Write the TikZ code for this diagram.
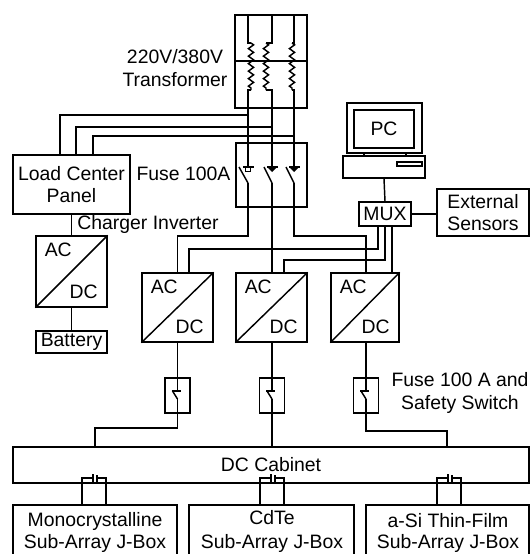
\documentclass[tikz,border=0pt]{standalone}
\usepackage{fontspec}
\setmainfont{Liberation Sans}
\usetikzlibrary{calc,decorations.pathmorphing}
\tikzset{
  wire/.style={line width=1.45pt},
  boxnode/.style={draw, line width=1.45pt, inner sep=0pt, align=center},
  lbl/.style={inner sep=0pt, align=center}
}
\begin{document}
\begin{tikzpicture}[x=1pt, y=-1pt, every node/.style={font=\fontsize{19.4}{22.5}\selectfont}]
  \clip (0,0) rectangle (530,554);
  % transformer and fuse panel
  \node[boxnode, minimum width=72pt, minimum height=93pt] (xfmr) at (271,61.5) {};
  \node[boxnode, minimum width=71pt, minimum height=64pt] (fusepanel) at (271.5,175) {};
  \draw[wire] (xfmr.west |- 0,61) -- (xfmr.east |- 0,61);
  \coordinate (phA) at (248,15);
  \coordinate (phB) at (272,15);
  \coordinate (phC) at (294,15);
  \node[lbl] (xfmrlbl) at (175,68) {220V/380V\\Transformer};
  \node[lbl] (fuselbl) at (183.5,174) {Fuse 100A};
  \foreach \ph/\cx/\bx in {phA/251/239, phB/266/264, phC/292/286}{
    \draw[wire] (\ph) |- (\cx,43);
    \draw[wire, decorate, decoration={zigzag, segment length=7.5pt, amplitude=2.6pt}] (\cx,43) -- (\cx,90);
    \draw[wire] (\cx,90) -| (\ph |- 0,167);
    \draw[wire] (\ph |- 0,167) ++(-5,0) -- ++(11,0);
    \draw[wire] (\bx,167) -- (\ph |- 0,183);
  }
  \fill (phB |- 0,167) ++(-5,0) -- ++(10,0) -- ++(-5,5) -- cycle;
  \fill (phC |- 0,167) ++(-5,0) -- ++(10,0) -- ++(-5,5) -- cycle;
  \draw[line width=0.9pt] (phA |- 0,167) ++(-2.5,0) rectangle ++(5,4);
  % load center branch
  \node[boxnode, minimum width=117pt, minimum height=59pt] (load) at (71.5,184.5) {Load Center\\Panel};
  \node[lbl] (chglbl) at (148,224) {Charger Inverter};
  \draw[wire] (load.north -| 60,0) |- (phA |- 0,115);
  \draw[wire] (load.north -| 76,0) |- (phB |- 0,127);
  \draw[wire] (load.north -| 93,0) |- (phC |- 0,136);
  % converters
  \foreach \n/\cx/\cy/\w/\h in {0/71.5/271.5/71/71, 1/177.5/307.5/71/69, 2/271.5/307.5/71/69, 3/365/307.5/68/69}{
    \node[boxnode, minimum width=\w pt, minimum height=\h pt] (conv\n) at (\cx,\cy) {};
    \draw[wire] (conv\n.south west) -- (conv\n.north east);
    \node[lbl] (ac\n) at ($(conv\n.north west)+(23,15)$) {AC};
    \node[lbl] (dc\n) at ($(conv\n.south east)+(-24,-16)$) {DC};
  }
  \node[boxnode, minimum width=71pt, minimum height=22pt] (batt) at (71.5,342) {Battery};
  \draw[wire] (load.south -| conv0.north) -- (conv0.north);
  \draw[wire] (conv0.south) -- (batt.north);
  % PC and multiplexer
  \node[boxnode, minimum width=75pt, minimum height=50pt] (mon) at (384.5,128) {};
  \node[boxnode, minimum width=60pt, minimum height=38pt] (screen) at (384,129) {PC};
  \node[boxnode, minimum width=82pt, minimum height=22pt] (base) at (384,167) {};
  \node[boxnode, minimum width=25pt, minimum height=4pt] (slot) at (409.5,164) {};
  \draw[wire] (mon.south -| 364,0) -- (base.north -| 364,0);
  \draw[wire] (mon.south -| 406,0) -- (base.north -| 406,0);
  \node[boxnode, minimum width=52pt, minimum height=24pt] (mux) at (385,214) {MUX};
  \node[boxnode, minimum width=92pt, minimum height=47pt] (ext) at (483,212.5) {External\\Sensors};
  \draw[wire] (base.south) -- (mux.north);
  \draw[wire] (mux.east) -- (ext.west |- mux.east);
  % wires to the converters
  \draw[wire] (phA |- 0,183) -- (phA |- 0,236) -| (conv1.north);
  \draw[wire] (phB |- 0,183) -- (conv2.north -| phB);
  \draw[wire] (phC |- 0,183) -- (phC |- 0,236) -| (conv3.north -| 366,0);
  \draw[wire] (conv1.north -| 189,0) |- (378,249) -- (mux.south -| 378,0);
  \draw[wire] (conv2.north -| 284,0) |- (385,260) -- (mux.south -| 385,0);
  \draw[wire] (conv3.north -| 392,0) -- (mux.south -| 392,0);
  % dc side
  \node[boxnode, minimum width=516pt, minimum height=36pt] (cabinet) at (271,465) {DC Cabinet};
  \foreach \n/\fx/\lx/\ly in {1/177.5/95/428, 2/272/272/430, 3/366/447/431}{
    \node[boxnode, minimum width=25pt, minimum height=35pt] (fs\n) at (\fx,395.5) {};
    \draw[wire] (conv\n.south -| fs\n.north) -- (fs\n.center |- 0,391);
    \draw[wire] (\fx-6,391) -- (\fx+3,391);
    \draw[wire] (\fx-5,391) -- (\fx,399);
    \draw[wire] (\fx,399) -- (fs\n.south) -- (\fx,\ly) -| (cabinet.north -| \lx,0);
  }
  \node[lbl] (fslbl) at (460,393) {Fuse 100 A and\\Safety Switch};
  % sub-array boxes
  \foreach \n/\jx/\w/\a/\tx/\ty/\txt in {1/95/164/82/95/521/Monocrystalline, 2/271.5/165/260/272/518/CdTe, 3/447.5/163/437/448/521/a-Si Thin-Film}{
    \node[boxnode, minimum width=\w pt, minimum height=60pt] (jbox\n) at (\jx,535) {};
    \node[lbl] (jtop\n) at (\tx,\ty) {\txt};
    \node[lbl] (jbot\n) at (\tx,543) {Sub-Array J-Box};
    \draw[wire] (jbox\n.north -| \a,0) |- (\a+11,478);
    \draw[wire] (\a+11,474) -- (\a+11,483);
    \draw[wire] (\a+15,475) -- (\a+15,482);
    \draw[wire] (\a+15,478) -| (jbox\n.north -| \a+24,0);
  }
\end{tikzpicture}
\end{document}
